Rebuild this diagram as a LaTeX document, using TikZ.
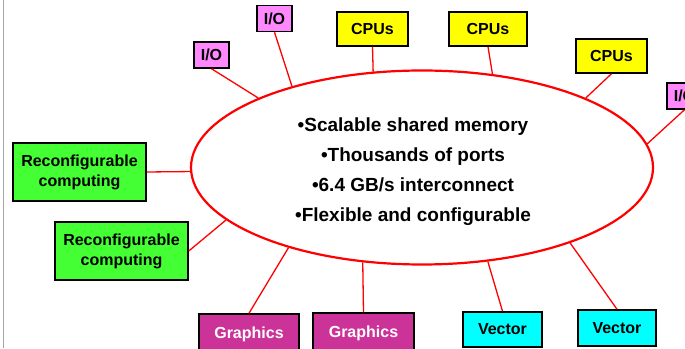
\documentclass[tikz,border=0pt]{standalone}
\usepackage{fontspec}
\setmainfont{Liberation Sans}
\usetikzlibrary{shapes.geometric}

\definecolor{iopink}{RGB}{255,136,255}
\definecolor{cpuyellow}{RGB}{255,255,0}
\definecolor{rcgreen}{RGB}{68,255,51}
\definecolor{grmagenta}{RGB}{204,51,153}
\definecolor{veccyan}{RGB}{0,255,255}

\begin{document}
\begin{tikzpicture}[
    x=1pt, y=1pt,
    box/.style={rectangle, draw=black, line width=1.5pt, inner sep=0pt,
                align=center, font=\fontsize{16}{20}\selectfont\bfseries},
    io/.style={box, fill=iopink, minimum width=35, minimum height=26},
    cpu/.style={box, fill=cpuyellow, minimum width=71, minimum height=34},
    rc/.style={box, fill=rcgreen, minimum width=133, minimum height=58},
    gr/.style={box, fill=grmagenta, text=white, minimum width=100, minimum height=40},
    vec/.style={box, fill=veccyan, minimum width=78, minimum height=35},
    link/.style={draw=red, line width=1.3pt},
]
\clip (0,0) rectangle (685,348);
\fill[white] (0,0) rectangle (685,348);
\draw[black!35, line width=1.5pt] (3.5,0) -- (3.5,348);

% shared memory
\node[ellipse, draw=red, line width=2.2pt, inner sep=0pt,
      minimum width=462, minimum height=194] (mem) at (422,180.5) {};
\node[align=center, font=\fontsize{19}{30}\selectfont\bfseries] (feat) at (413,176)
  {•Scalable shared memory\\ •Thousands of ports\\ •6.4 GB/s interconnect\\ •Flexible and configurable};

% top row
\node[io] (io1) at (211.5,293) {I/O};
\node[io] (io2) at (274.5,329.5) {I/O};
\node[cpu] (cpu1) at (372.5,319) {CPUs};
\node[cpu, minimum width=78] (cpu2) at (488,319) {CPUs};
\node[cpu] (cpu3) at (611.5,292) {CPUs};
\node[io] (io3) at (684.5,252) {I/O};
\draw[link] (io1.south) -- (mem.157);
\draw[link] (io2.south) -- (mem.148.8);
\draw[link] (cpu1.south) -- (mem.117.2);
\draw[link] (cpu2.south) -- (mem.53.6);
\draw[link] (cpu3.south) -- (mem.23.8);
\draw[link] (io3.south) -- (mem.6.5);

% left side
\node[rc] (rc1) at (79.5,176) {Reconfigurable\\computing};
\node[rc] (rc2) at (121.5,97) {Reconfigurable\\computing};
\draw[link] (rc1.east) -- (mem.181.6);
\draw[link] (rc2.east) -- (mem.195.8);

% bottom row
\node[gr] (gr1) at (249,14) {Graphics};
\node[gr, minimum width=101] (gr2) at (363.5,15) {Graphics};
\node[vec, minimum width=79] (vec1) at (502.5,18.5) {Vector};
\node[vec, minimum height=36] (vec2) at (617,20) {Vector};
\draw[link] (gr1.north) -- (mem.211);
\draw[link] (gr2.north) -- (mem.238.6);
\draw[link] (vec1.north) -- (mem.305.3);
\draw[link] (vec2.north) -- (mem.333.7);

\end{tikzpicture}
\end{document}
